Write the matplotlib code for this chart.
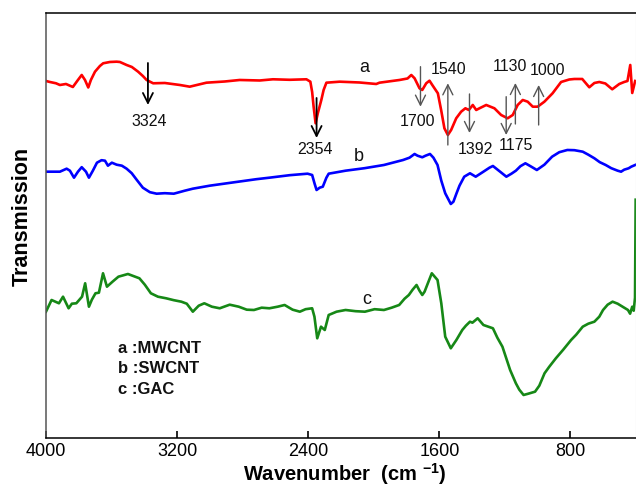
import matplotlib
matplotlib.use('Agg')
import matplotlib.pyplot as plt

plt.rcParams['font.family'] = ['Liberation Sans', 'DejaVu Sans']
plt.rcParams['mathtext.fontset'] = 'custom'
plt.rcParams['mathtext.rm'] = 'Liberation Sans'
plt.rcParams['mathtext.bf'] = 'Liberation Sans:bold'

# ---- spectrum a : MWCNT (red) ----
wn_a = [4000, 3976, 3939, 3915, 3878, 3836, 3805, 3782, 3762, 3742, 3726, 3701, 3671, 3651,
        3610, 3569, 3549, 3508, 3476, 3438, 3409, 3386, 3346, 3275, 3183, 3123, 3021, 2909,
        2818, 2696, 2615, 2513, 2411, 2387, 2376, 2367, 2355, 2341, 2320, 2306, 2289, 2208,
        2087, 1985, 1965, 1843, 1794, 1771, 1751, 1721, 1704, 1680, 1660, 1643, 1609, 1589,
        1569, 1548, 1528, 1497, 1467, 1441, 1420, 1396, 1375, 1355, 1314, 1264, 1223, 1183,
        1152, 1122, 1091, 1061, 1030, 1000, 959, 909, 857, 807, 776, 728, 685, 654, 624, 587,
        545, 502, 472, 452, 435, 423, 405]
t_a = [356.7, 355.7, 354.4, 352.7, 353.7, 350.7, 357.7, 362.7, 357.7, 350.2, 357.7, 366, 371.7,
       374.4, 375.7, 376, 375.7, 372.7, 370.7, 366, 361.7, 357.7, 354.4, 354.7, 352.7, 351, 355,
       356.2, 357.7, 357.2, 358.4, 357.9, 358.4, 356, 345.7, 331, 314.4, 324.7, 337.7, 347.7,
       355, 356, 355.2, 353.7, 355, 357.7, 359.2, 362.7, 359.4, 349.4, 347.7, 354.4, 357,
       352.7, 344.4, 327.7, 309.4, 302.7, 307.7, 319.4, 326, 329.4, 327.7, 332.7, 327.7,
       329.4, 332.7, 329.4, 322.7, 319.4, 322.7, 332.7, 337.7, 336, 331, 331, 336, 344.4,
       355.7, 358.2, 358.7, 358.7, 350.4, 354.7, 355.7, 354.2, 348.4, 353.7, 355.7, 356.7,
       372.7, 344.7, 356.7]

# ---- spectrum b : SWCNT (blue) ----
wn_b = [4000, 3957, 3915, 3874, 3854, 3829, 3805, 3782, 3756, 3738, 3714, 3689, 3661, 3640,
        3622, 3598, 3569, 3537, 3508, 3477, 3447, 3409, 3366, 3325, 3275, 3220, 3153, 3104,
        3001, 2870, 2716, 2637, 2513, 2404, 2376, 2361, 2349, 2330, 2311, 2289, 2275, 2172,
        2056, 1938, 1821, 1782, 1751, 1733, 1704, 1684, 1657, 1636, 1611, 1588, 1564, 1530,
        1514, 1495, 1477, 1448, 1413, 1378, 1331, 1294, 1273, 1233, 1191, 1160, 1133, 1105,
        1075, 1044, 1005, 959, 912, 868, 819, 776, 725, 691, 654, 621, 585, 551, 512, 491,
        472, 445, 429, 405]
t_b = [266, 266, 266, 269, 267, 260, 266, 270.5, 266, 260, 267, 275, 277.5, 277, 272, 275, 273,
       272, 269, 264.5, 258, 250, 245.5, 244, 244.5, 244, 247, 249, 252, 255, 258.5, 260,
       262.5, 264, 262.7, 254, 247.7, 250, 251, 260, 264, 267, 269.5, 272.7, 277.7, 280,
       283.7, 282, 280.4, 282, 283.7, 280, 272.7, 257, 244.4, 233.7, 236, 244.4, 252, 261,
       264.4, 261, 266, 270, 271.7, 266.5, 261, 264, 267, 271.5, 274.4, 271.5, 267.7, 273,
       281, 285.5, 287.7, 287.5, 286, 283, 279.4, 275.5, 272.7, 269.5, 267, 266, 268, 269.4,
       271, 272.7]

# ---- spectrum c : GAC (green) ----
wn_c = [4000, 3966, 3921, 3896, 3862, 3842, 3815, 3780, 3761, 3738, 3720, 3698, 3677, 3652,
        3628, 3594, 3558, 3500, 3430, 3397, 3360, 3317, 3267, 3220, 3174, 3141, 3104, 3068,
        3034, 2988, 2940, 2879, 2824, 2775, 2731, 2684, 2637, 2586, 2544, 2495, 2451, 2416,
        2376, 2362, 2345, 2322, 2299, 2275, 2227, 2172, 2111, 2054, 1995, 1938, 1891, 1845,
        1812, 1786, 1763, 1739, 1721, 1704, 1690, 1670, 1646, 1623, 1611, 1588, 1564, 1530,
        1496, 1460, 1438, 1413, 1398, 1366, 1331, 1273, 1246, 1215, 1168, 1133, 1112, 1086,
        1057, 1016, 990, 958, 929, 889, 844, 796, 765, 725, 691, 654, 624, 601, 573, 543,
        512, 482, 449, 436, 423, 414, 406, 402]
t_c = [126, 137.7, 134.4, 141, 129.4, 134, 134.4, 141, 154.4, 131, 138, 144.4, 145, 164.4,
       151, 156, 161, 163.7, 159.4, 153, 144.4, 141, 139.4, 137.5, 136, 134, 126, 132, 134.4,
       131, 129.4, 133, 131, 128, 127.7, 130, 129.4, 131, 132.7, 128, 126, 128.5, 129.4, 121,
       99.4, 111, 107.7, 122.7, 126, 127.7, 126.5, 126, 128.5, 127.7, 130, 132.7, 139,
       142.7, 148, 152.7, 147, 142.7, 146, 154.4, 164.4, 160, 157.7, 134.4, 101, 89.4, 97.7,
       107.7, 112, 116, 115, 119.4, 112.7, 109.4, 100, 91, 67.7, 54.4, 48, 42.7, 44, 46,
       52, 64.4, 71, 79.4, 88, 97.7, 103, 111, 114, 116, 121, 127.7, 133, 136, 134, 131,
       127.7, 124, 131, 127, 140, 238]

# ---- peak annotations on spectrum a ----
peak_text = ['3324', '2354', '1700', '1540', '1392', '1175', '1130', '1000']
peak_x = [3378, 2349, 1715, 1548, 1416, 1192, 1136, 994]
arrow_from = [374.7, 339.7, 371, 292.7, 343.7, 341, 313.7, 312.7]
arrow_to = [332.7, 299.7, 331, 354.4, 304.7, 302.7, 354.7, 352.7]
text_x = [3372, 2361, 1733, 1544, 1380, 1132, 1168, 941]
text_y = [315.7, 287.7, 316, 367.7, 287.7, 291.7, 371, 366.7]
arrow_colors = ['black', 'black', '#555555', '#555555', '#555555', '#555555', '#555555', '#555555']

curve_names = ['a', 'b', 'c']
curve_name_x = [2056, 2093, 2044]
curve_name_y = [369.7, 280.7, 137.7]

legend_lines = ['a :MWCNT', 'b :SWCNT', 'c :GAC']
legend_y = [89.4, 69.4, 47.7]

xticks = [4000, 3200, 2400, 1600, 800]

fig = plt.figure(figsize=(6.36, 4.86), dpi=100)
ax = fig.add_axes([0.0723, 0.0994, 0.9277, 0.8745])

ax.plot(wn_a, t_a, color='#ff0000', lw=1.9)
ax.plot(wn_b, t_b, color='#0000ff', lw=1.9)
ax.plot(wn_c, t_c, color='#168816', lw=1.9)

for txt, x, y0, y1, tx, ty, col in zip(peak_text, peak_x, arrow_from, arrow_to,
                                        text_x, text_y, arrow_colors):
    ax.annotate('', xy=(x, y1), xytext=(x, y0),
                arrowprops=dict(arrowstyle='->', color=col,
                                lw=1.3 if col == 'black' else 1.0,
                                mutation_scale=18, shrinkA=0, shrinkB=0))
    ax.text(tx, ty, txt, fontsize=11.5, ha='center', va='center', color='#111111')

for name, x, y in zip(curve_names, curve_name_x, curve_name_y):
    ax.text(x, y, name, fontsize=13, ha='center', va='center', color='#111111')

for line, y in zip(legend_lines, legend_y):
    ax.text(3561, y, line, fontsize=12, fontweight='bold', ha='left', va='center',
            color='#111111')

ax.set_xlim(4000, 400)
ax.set_ylim(0, 425)
ax.set_xticks(xticks)
ax.set_xticklabels([str(v) for v in xticks])
ax.set_yticks([])
ax.tick_params(axis='x', direction='in', length=5, width=1.2, labelsize=13, pad=3.5,
               colors='black')

for side in ['left', 'bottom', 'top']:
    ax.spines[side].set_linewidth(1.1)
ax.spines['left'].set_color('#555555')
ax.spines['bottom'].set_color('black')
ax.spines['top'].set_color('black')
ax.spines['right'].set_color('#cccccc')
ax.spines['right'].set_linewidth(0.8)

ax.set_xlabel(r'Wavenumber  (cm $^{\mathbf{-1}}$)', fontsize=14.5, fontweight='bold')
ax.xaxis.set_label_coords(0.507, -0.054)
ax.set_ylabel('Transmission', fontsize=15.5, fontweight='bold')
ax.yaxis.set_label_coords(-0.022, 0.52)

fig.savefig('out.png', dpi=100)
